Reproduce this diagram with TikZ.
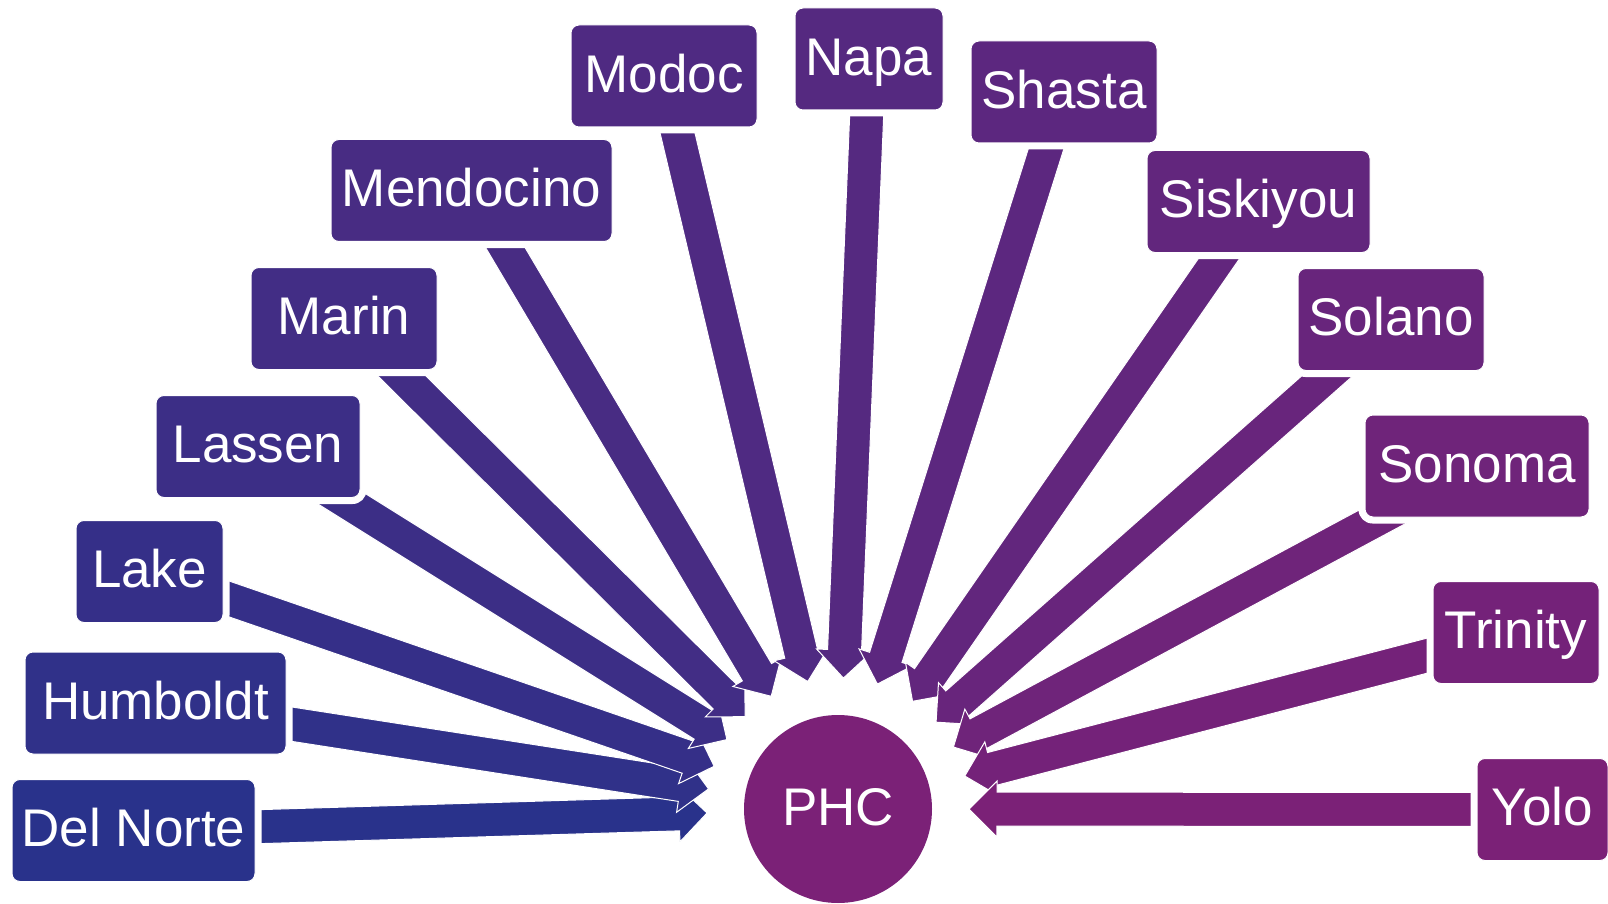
\documentclass[tikz,border=0pt]{standalone}
\usepackage{fontspec}
\setmainfont{Liberation Sans}
\usetikzlibrary{calc}
\pgfdeclarelayer{background}
\pgfsetlayers{background,main}
\definecolor{blu}{RGB}{41,50,139}
\definecolor{pur}{RGB}{123,33,119}
\colorlet{c0}{pur!0!blu}
\colorlet{c1}{pur!8!blu}
\colorlet{c2}{pur!15!blu}
\colorlet{c3}{pur!23!blu}
\colorlet{c4}{pur!31!blu}
\colorlet{c5}{pur!38!blu}
\colorlet{c6}{pur!46!blu}
\colorlet{c7}{pur!54!blu}
\colorlet{c8}{pur!62!blu}
\colorlet{c9}{pur!69!blu}
\colorlet{c10}{pur!77!blu}
\colorlet{c11}{pur!85!blu}
\colorlet{c12}{pur!92!blu}
\colorlet{c13}{pur!100!blu}
\tikzset{
  county/.style={rectangle, rounded corners=4pt, draw=white, line width=0.5pt,
    text=white, minimum height=51pt, inner sep=0pt,
    text height=19pt, text depth=2.7pt,
    font=\fontsize{26.5}{30}\selectfont},
  hub/.style={circle, fill=pur, text=white, minimum size=94pt, inner sep=0pt,
    text height=19pt, text depth=2.7pt,
    font=\fontsize{26.5}{30}\selectfont},
  blockarrow/.style={draw=white, line width=0.5pt, line join=miter},
  halo/.style={fill=white, rounded corners=7pt}
}
\newcommand\blockarr[3]{%
  \path ($(#2)!14pt!(#1)$) coordinate (hb);
  \fill[blockarrow, fill=#3]
    ($(#1)!8.5pt!90:(#2)$) -- ($(hb)!8.5pt!-90:(#1)$) -- ($(hb)!14pt!-90:(#1)$)
    -- (#2) -- ($(hb)!14pt!90:(#1)$) -- ($(hb)!8.5pt!90:(#1)$)
    -- ($(#1)!8.5pt!-90:(#2)$) -- cycle;
}
\newcommand\feed[2]{%
  \coordinate (#1h) at ($(phc)!65.5pt!(#1)$);
  \blockarr{#1}{#1h}{#2}%
}
\newcommand\halobox[1]{%
  \fill[halo] ($(#1.south west)+(-6,6)$) rectangle ($(#1.north east)+(6,-6)$);
}
\begin{document}
\begin{tikzpicture}[x=0.5pt,y=-0.5pt]
\useasboundingbox (0,0) rectangle (1608,904);
\node[hub] (phc) at (838,809) {PHC};
\node[county, fill=c0,  minimum width=121.5pt] (dn) at (133.5,830.5) {Del Norte};
\node[county, fill=c1,  minimum width=130.5pt] (hu) at (155.5,703) {Humboldt};
\node[county, fill=c2,  minimum width=73.5pt]  (la) at (149.5,571.5) {Lake};
\node[county, fill=c3,  minimum width=102pt]   (ls) at (258,446.5) {Lassen};
\node[county, fill=c4,  minimum width=93pt]    (ma) at (344,318.5) {Marin};
\node[county, fill=c5,  minimum width=140.5pt] (me) at (471.5,190.5) {Mendocino};
\node[county, fill=c6,  minimum width=93pt]    (mo) at (664,76) {Modoc};
\node[county, fill=c7,  minimum width=74pt]    (na) at (869,59) {Napa};
\node[county, fill=c8,  minimum width=93pt]    (sh) at (1064,92) {Shasta};
\node[county, fill=c9,  minimum width=111.5pt] (si) at (1258.5,201.5) {Siskiyou};
\node[county, fill=c10, minimum width=93pt]    (so) at (1391,319.5) {Solano};
\node[county, fill=c11, minimum width=112pt]   (sn) at (1477,466) {Sonoma};
\node[county, fill=c12, minimum width=83pt]    (tr) at (1516,632.5) {Trinity};
\node[county, fill=c13, minimum width=65.5pt]  (yo) at (1542.5,809.5) {Yolo};
\begin{pgfonlayer}{background}
\feed{dn}{c0}
\feed{hu}{c1}
\feed{la}{c2}
\feed{ls}{c3}
\feed{ma}{c4}
\feed{me}{c5}
\feed{mo}{c6}
\feed{na}{c7}
\feed{sh}{c8}
\feed{si}{c9}
\feed{so}{c10}
\feed{sn}{c11}
\feed{tr}{c12}
\feed{yo}{c13}
\foreach \b in {dn,hu,la,ls,ma,me,mo,na,sh,si,so,sn,tr,yo}{\halobox{\b}}
\end{pgfonlayer}
\end{tikzpicture}
\end{document}
